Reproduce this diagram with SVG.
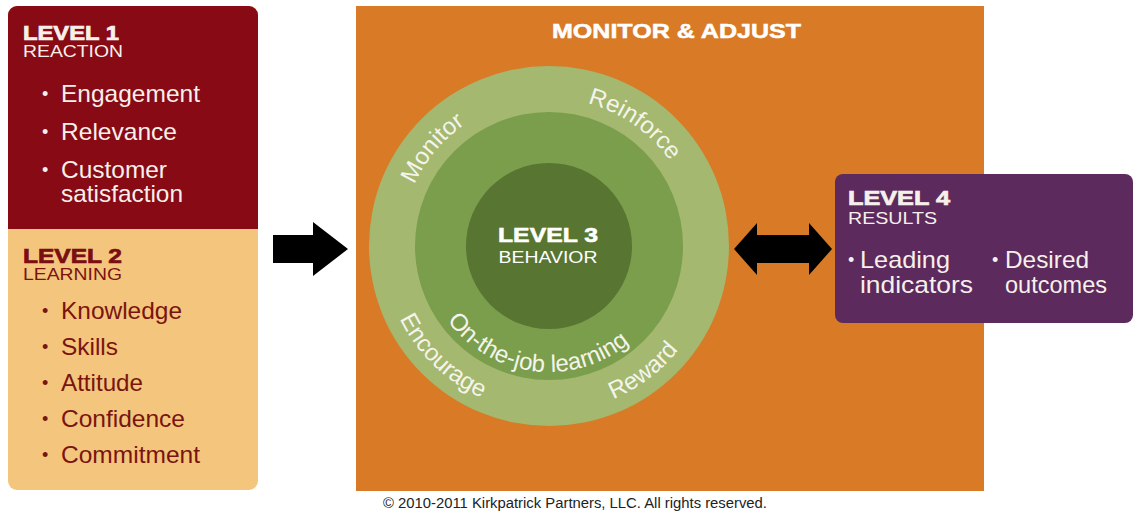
<svg xmlns="http://www.w3.org/2000/svg" width="1135" height="514" viewBox="0 0 1135 514">
  <style>
    text { font-family: "Liberation Sans", Arial, sans-serif; }
    .hd { font-weight: bold; font-size: 20px; stroke-width: 0.7px; }
    .sub { font-size: 17px; }
    .bl { font-size: 24px; }
    .dot { font-size: 18px; }
    .w { fill: #F7F0EA; }
    .hw { fill: #F7F0EA; stroke: #F7F0EA; }
    .dr { fill: #7A1410; }
    .hr { fill: #7A0E12; stroke: #7A0E12; }
    .arc { font-size: 24px; fill: #F4F4EC; }
  </style>
  <defs>
    <path id="pMonitor" d="M409.9,296.6 A148,148 0 0 1 574.7,100.3"/>
    <path id="pReinforce" d="M486.5,111.9 A148,148 0 0 1 696.4,258.9"/>
    <path id="pEncourage" d="M387.9,205.8 A166,166 0 0 0 594.8,405.6"/>
    <path id="pReward" d="M484.1,398.8 A166,166 0 0 0 713.8,225.8"/>
    <path id="pOJL" d="M430.6,202.9 A126,126 0 1 0 674.3,232.8"/>
  </defs>
  <rect width="1135" height="514" fill="#ffffff"/>

  <g id="level1-2">
    <rect x="8" y="6" width="250" height="484" rx="9" fill="#F4C57C"/>
    <path d="M8,229 V15 A9,9 0 0 1 17,6 H249 A9,9 0 0 1 258,15 V229 Z" fill="#870A14"/>
  </g>
  <g id="level1">
    <text class="hd hw" x="23" y="40" textLength="96" lengthAdjust="spacingAndGlyphs">LEVEL 1</text>
    <text class="sub w" x="23" y="57" textLength="100" lengthAdjust="spacingAndGlyphs">REACTION</text>
    <text class="dot w" x="42" y="100">•</text><text class="bl w" x="61" y="102" textLength="139" lengthAdjust="spacingAndGlyphs">Engagement</text>
    <text class="dot w" x="42" y="138">•</text><text class="bl w" x="61" y="140" textLength="116" lengthAdjust="spacingAndGlyphs">Relevance</text>
    <text class="dot w" x="42" y="176">•</text><text class="bl w" x="61" y="178" textLength="106" lengthAdjust="spacingAndGlyphs">Customer</text>
    <text class="bl w" x="61" y="202" textLength="122" lengthAdjust="spacingAndGlyphs">satisfaction</text>
  </g>
  <g id="level2">
    <text class="hd hr" x="23" y="263" textLength="99" lengthAdjust="spacingAndGlyphs">LEVEL 2</text>
    <text class="sub dr" x="23" y="280" textLength="99" lengthAdjust="spacingAndGlyphs">LEARNING</text>
    <text class="dot dr" x="42" y="317">•</text><text class="bl dr" x="61" y="319" textLength="121" lengthAdjust="spacingAndGlyphs">Knowledge</text>
    <text class="dot dr" x="42" y="353">•</text><text class="bl dr" x="61" y="355" textLength="57" lengthAdjust="spacingAndGlyphs">Skills</text>
    <text class="dot dr" x="42" y="389">•</text><text class="bl dr" x="61" y="391" textLength="82" lengthAdjust="spacingAndGlyphs">Attitude</text>
    <text class="dot dr" x="42" y="425">•</text><text class="bl dr" x="61" y="427" textLength="124" lengthAdjust="spacingAndGlyphs">Confidence</text>
    <text class="dot dr" x="42" y="461">•</text><text class="bl dr" x="61" y="463" textLength="139" lengthAdjust="spacingAndGlyphs">Commitment</text>
  </g>

  <g id="monitor-adjust">
    <rect x="356" y="6" width="628" height="485" fill="#D97A27"/>
    <text x="552" y="38" font-weight="bold" font-size="20" fill="#ffffff" stroke="#ffffff" stroke-width="0.5" textLength="249" lengthAdjust="spacingAndGlyphs">MONITOR &amp; ADJUST</text>
  </g>

  <g id="level3">
    <circle cx="549" cy="246" r="180" fill="#A4B86F"/>
    <circle cx="549" cy="246" r="134" fill="#7A9E4B"/>
    <circle cx="549" cy="246" r="83" fill="#587531"/>
    <text x="548" y="242" text-anchor="middle" font-weight="bold" font-size="21" fill="#ffffff" stroke="#ffffff" stroke-width="0.6" textLength="100" lengthAdjust="spacingAndGlyphs">LEVEL 3</text>
    <text x="548" y="263" text-anchor="middle" font-size="17" fill="#ffffff" textLength="99" lengthAdjust="spacingAndGlyphs">BEHAVIOR</text>
    <text class="arc"><textPath href="#pMonitor" startOffset="50%" text-anchor="middle">Monitor</textPath></text>
    <text class="arc"><textPath href="#pReinforce" startOffset="50%" text-anchor="middle">Reinforce</textPath></text>
    <text class="arc"><textPath href="#pEncourage" startOffset="50%" text-anchor="middle">Encourage</textPath></text>
    <text class="arc"><textPath href="#pReward" startOffset="50%" text-anchor="middle">Reward</textPath></text>
    <text class="arc"><textPath href="#pOJL" startOffset="50%" text-anchor="middle">On-the-job learning</textPath></text>
  </g>

  <g id="level4">
    <rect x="835" y="174" width="298" height="149" rx="8" fill="#5C2A5D"/>
    <text class="hd hw" x="848" y="205" textLength="102" lengthAdjust="spacingAndGlyphs">LEVEL 4</text>
    <text class="sub w" x="848" y="224" textLength="89" lengthAdjust="spacingAndGlyphs">RESULTS</text>
    <text class="dot w" x="848" y="266">•</text><text class="bl w" x="860" y="268" textLength="90" lengthAdjust="spacingAndGlyphs">Leading</text>
    <text class="bl w" x="860" y="293" textLength="113" lengthAdjust="spacingAndGlyphs">indicators</text>
    <text class="dot w" x="992" y="266">•</text><text class="bl w" x="1005" y="268" textLength="84" lengthAdjust="spacingAndGlyphs">Desired</text>
    <text class="bl w" x="1005" y="293" textLength="102" lengthAdjust="spacingAndGlyphs">outcomes</text>
  </g>

  <g id="connectors" fill="#000000">
    <polygon points="273,235 313,235 313,222 348,249 313,276 313,263 273,263"/>
    <polygon points="734,249 757,223 757,235 809,235 809,223 832,249 809,275 809,263 757,263 757,275"/>
  </g>

  <g id="footer">
    <text x="383" y="508" font-size="14" fill="#222222" textLength="384" lengthAdjust="spacingAndGlyphs">© 2010-2011 Kirkpatrick Partners, LLC. All rights reserved.</text>
  </g>
</svg>
